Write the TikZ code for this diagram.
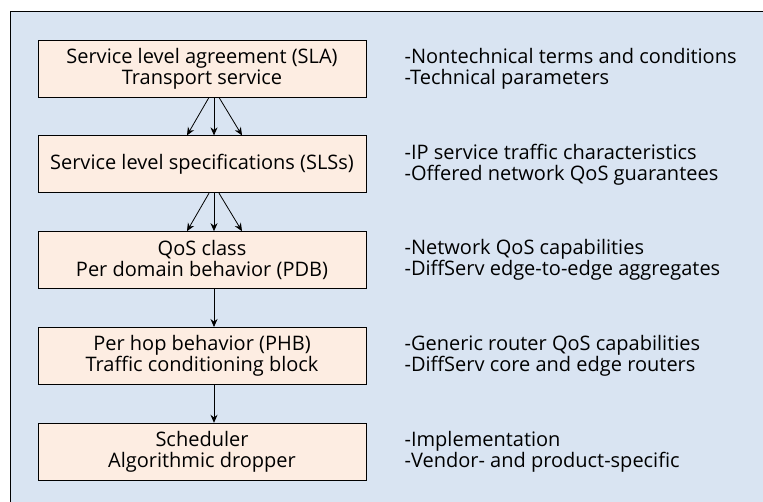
\documentclass[tikz,border=0pt]{standalone}
\usepackage{fontspec}
\setmainfont{Open Sans}
\usetikzlibrary{positioning, arrows.meta}
\definecolor{fundo}{RGB}{217,228,242}
\definecolor{caixa}{RGB}{253,237,226}

\begin{document}
\begin{tikzpicture}[x=1pt,y=-1pt,
  camada/.style={draw, thick, fill=caixa, minimum width=328pt, minimum height=57pt, align=center, inner sep=0pt},
  nota/.style={align=left, inner sep=0pt},
  seta/.style={-{Stealth[length=8pt,width=7pt]}, thick},
  node distance=38pt, font=\fontsize{20}{21}\selectfont]

% Fundo e moldura
\useasboundingbox (0,0) rectangle (763,502);
\fill[fundo] (10,11) rectangle (763,502);
\draw (10,502) -- (10,11) -- (763,11);

% Camadas
\node[camada] (sla) at (202,68.5) {Service level agreement (SLA)\\Transport service};
\node[camada, below=of sla] (sls) {Service level specifications (SLSs)};
\node[camada, below=of sls] (qos) {QoS class\\Per domain behavior (PDB)};
\node[camada, below=of qos] (phb) {Per hop behavior (PHB)\\Traffic conditioning block};
\node[camada, below=of phb] (sched) {Scheduler\\Algorithmic dropper};

% Notas a direita
\node[nota, right=38pt of sla] (sla-txt) {-Nontechnical terms and conditions\\-Technical parameters};
\node[nota, right=38pt of sls] (sls-txt) {-IP service traffic characteristics\\-Offered network QoS guarantees};
\node[nota, right=38pt of qos] (qos-txt) {-Network QoS capabilities\\-DiffServ edge-to-edge aggregates};
\node[nota, right=38pt of phb] (phb-txt) {-Generic router QoS capabilities\\-DiffServ core and edge routers};
\node[nota, right=38pt of sched] (sched-txt) {-Implementation\\-Vendor- and product-specific};

% Setas triplas
\foreach \a/\b in {7/-15, 12/12, 17/40} {
  \draw[seta] ([xshift=\a pt]sla.south) -- ([xshift=\b pt]sls.north);
  \draw[seta] ([xshift=\a pt]sls.south) -- ([xshift=\b pt]qos.north);
}

% Setas simples
\draw[seta] ([xshift=12pt]qos.south) -- ([xshift=12pt]phb.north);
\draw[seta] ([xshift=12pt]phb.south) -- ([xshift=12pt]sched.north);

\end{tikzpicture}
\end{document}
